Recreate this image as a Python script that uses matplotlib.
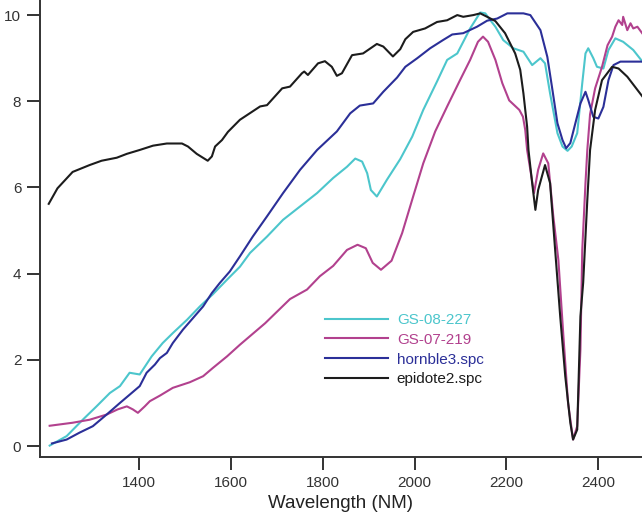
import matplotlib
matplotlib.use("Agg")
import matplotlib.pyplot as plt

# spectra (wavelength in nm, reflectance-ish units)
gs08_x = [1206, 1243, 1278, 1308, 1337, 1359, 1380, 1402, 1428, 1452, 1474, 1505, 1533,
          1561, 1592, 1620, 1642, 1679, 1714, 1751, 1788, 1823, 1853, 1871, 1886, 1897,
          1905, 1918, 1940, 1969, 1995, 2019, 2049, 2071, 2093, 2121, 2143, 2154, 2165,
          2176, 2193, 2215, 2237, 2256, 2274, 2284, 2295, 2311, 2322, 2333, 2342, 2354,
          2365, 2372, 2378, 2389, 2397, 2411, 2422, 2437, 2454, 2476, 2496]
gs08_y = [0.01, 0.23, 0.61, 0.92, 1.23, 1.39, 1.70, 1.66, 2.08, 2.39, 2.62, 2.93, 3.24,
          3.52, 3.86, 4.16, 4.48, 4.86, 5.25, 5.56, 5.87, 6.22, 6.48, 6.67, 6.60, 6.33,
          5.94, 5.79, 6.18, 6.66, 7.18, 7.80, 8.46, 8.96, 9.11, 9.69, 10.06, 10.04, 9.88,
          9.73, 9.42, 9.23, 9.15, 8.84, 9.00, 8.88, 8.18, 7.26, 6.95, 6.85, 6.95, 7.26,
          8.42, 9.11, 9.23, 9.00, 8.80, 8.76, 9.19, 9.46, 9.38, 9.19, 8.92]

gs07_x = [1206, 1256, 1293, 1330, 1354, 1374, 1387, 1398, 1413, 1424, 1446, 1474, 1511,
          1540, 1561, 1592, 1620, 1675, 1729, 1766, 1794, 1823, 1853, 1876, 1894, 1909,
          1927, 1950, 1973, 1997, 2019, 2045, 2071, 2099, 2121, 2138, 2149, 2160, 2176,
          2191, 2206, 2228, 2236, 2241, 2245, 2252, 2260, 2269, 2280, 2291, 2302, 2313,
          2324, 2334, 2345, 2354, 2361, 2365, 2372, 2376, 2382, 2393, 2408, 2420, 2430,
          2437, 2444, 2452, 2454, 2463, 2470, 2476, 2485, 2496]
gs07_y = [0.47, 0.54, 0.61, 0.73, 0.85, 0.92, 0.85, 0.77, 0.92, 1.04, 1.17, 1.35, 1.48,
          1.62, 1.81, 2.08, 2.35, 2.85, 3.41, 3.63, 3.94, 4.18, 4.55, 4.67, 4.59, 4.25,
          4.09, 4.30, 4.94, 5.79, 6.56, 7.30, 7.88, 8.49, 8.96, 9.38, 9.50, 9.38, 8.96,
          8.42, 8.02, 7.80, 7.64, 7.33, 6.87, 6.41, 5.87, 6.41, 6.79, 6.56, 5.33, 4.32,
          2.54, 1.01, 0.15, 0.46, 2.24, 4.55, 6.10, 6.87, 7.70, 8.30, 8.80, 9.30, 9.50,
          9.73, 9.88, 9.77, 9.96, 9.65, 9.81, 9.69, 9.73, 9.57]

horn_x = [1211, 1243, 1271, 1300, 1330, 1359, 1380, 1402, 1417, 1435, 1446, 1461, 1474,
          1496, 1518, 1540, 1559, 1576, 1598, 1620, 1648, 1679, 1714, 1751, 1788, 1831,
          1860, 1881, 1910, 1932, 1962, 1980, 2006, 2034, 2062, 2082, 2106, 2136, 2158,
          2180, 2202, 2237, 2252, 2274, 2289, 2300, 2311, 2322, 2330, 2339, 2350, 2361,
          2372, 2378, 2389, 2400, 2411, 2422, 2433, 2448, 2496]
horn_y = [0.06, 0.15, 0.31, 0.46, 0.73, 1.00, 1.19, 1.39, 1.70, 1.89, 2.04, 2.16, 2.39,
          2.70, 2.97, 3.24, 3.55, 3.78, 4.05, 4.40, 4.86, 5.33, 5.87, 6.41, 6.87, 7.30,
          7.72, 7.90, 7.95, 8.22, 8.55, 8.80, 9.00, 9.23, 9.42, 9.55, 9.58, 9.73, 9.87,
          9.92, 10.04, 10.04, 10.00, 9.65, 9.03, 8.27, 7.49, 7.10, 6.91, 7.03, 7.49, 7.95,
          8.22, 8.03, 7.64, 7.60, 7.87, 8.49, 8.84, 8.92, 8.92]

epi_x = [1204, 1223, 1256, 1293, 1319, 1352, 1374, 1402, 1431, 1461, 1494, 1507, 1526,
         1550, 1559, 1566, 1581, 1594, 1620, 1664, 1679, 1712, 1729, 1755, 1760, 1768,
         1790, 1805, 1820, 1831, 1842, 1864, 1888, 1918, 1932, 1953, 1969, 1980, 1997,
         2023, 2049, 2071, 2093, 2106, 2128, 2143, 2158, 2176, 2197, 2219, 2230, 2237,
         2245, 2248, 2256, 2263, 2269, 2284, 2295, 2306, 2317, 2328, 2339, 2345, 2354,
         2361, 2367, 2376, 2382, 2393, 2408, 2430, 2444, 2463, 2496]
epi_y = [5.62, 5.98, 6.36, 6.52, 6.62, 6.69, 6.78, 6.87, 6.97, 7.02, 7.02, 6.95, 6.78,
         6.62, 6.72, 6.95, 7.10, 7.29, 7.57, 7.88, 7.91, 8.30, 8.34, 8.65, 8.69, 8.61,
         8.88, 8.93, 8.80, 8.59, 8.65, 9.07, 9.11, 9.33, 9.27, 9.04, 9.21, 9.44, 9.61,
         9.69, 9.84, 9.88, 10.00, 9.96, 10.00, 10.04, 9.96, 9.86, 9.58, 9.11, 8.73, 8.18,
         7.41, 6.87, 6.10, 5.48, 5.94, 6.52, 6.10, 4.55, 3.01, 1.62, 0.54, 0.15, 0.38,
         3.01, 3.79, 5.71, 6.87, 7.80, 8.49, 8.80, 8.76, 8.57, 8.11]

series = [
    ("GS-08-227", gs08_x, gs08_y, "#4cc6cc"),
    ("GS-07-219", gs07_x, gs07_y, "#b2418e"),
    ("hornble3.spc", horn_x, horn_y, "#2b2f98"),
    ("epidote2.spc", epi_x, epi_y, "#1c1c1c"),
]

plt.rcParams["font.family"] = ["Liberation Sans", "DejaVu Sans"]

fig = plt.figure(figsize=(6.42, 5.16), dpi=100)
ax = fig.add_axes([40 / 642, 59 / 516, 602 / 642, 457 / 516])

for name, xs, ys, col in series:
    ax.plot(xs, ys, color=col, lw=1.5, label=name)

ax.set_xlim(1185, 2495)
ax.set_ylim(-0.255, 10.35)
ax.set_xticks([1400, 1600, 1800, 2000, 2200, 2400])
ax.set_yticks([0, 2, 4, 6, 8, 10])

for side in ["top", "right"]:
    ax.spines[side].set_visible(False)
for side in ["left", "bottom"]:
    ax.spines[side].set_color("#333333")
    ax.spines[side].set_linewidth(1.4)

ax.tick_params(direction="out", length=9.5, width=1.4, color="#333333",
               labelsize=11, labelcolor="#333333", pad=4)
ax.set_xlabel("Wavelength (NM)", fontsize=13.5, color="#222222", labelpad=4)

ax.legend(loc="upper left", bbox_to_anchor=(325 / 642, 1 - 313 / 516),
          bbox_transform=fig.transFigure, frameon=False, fontsize=11,
          handlelength=4.1, handletextpad=0.6, labelspacing=0.38,
          borderpad=0, borderaxespad=0, labelcolor="linecolor")

fig.savefig("out.png", dpi=100)
